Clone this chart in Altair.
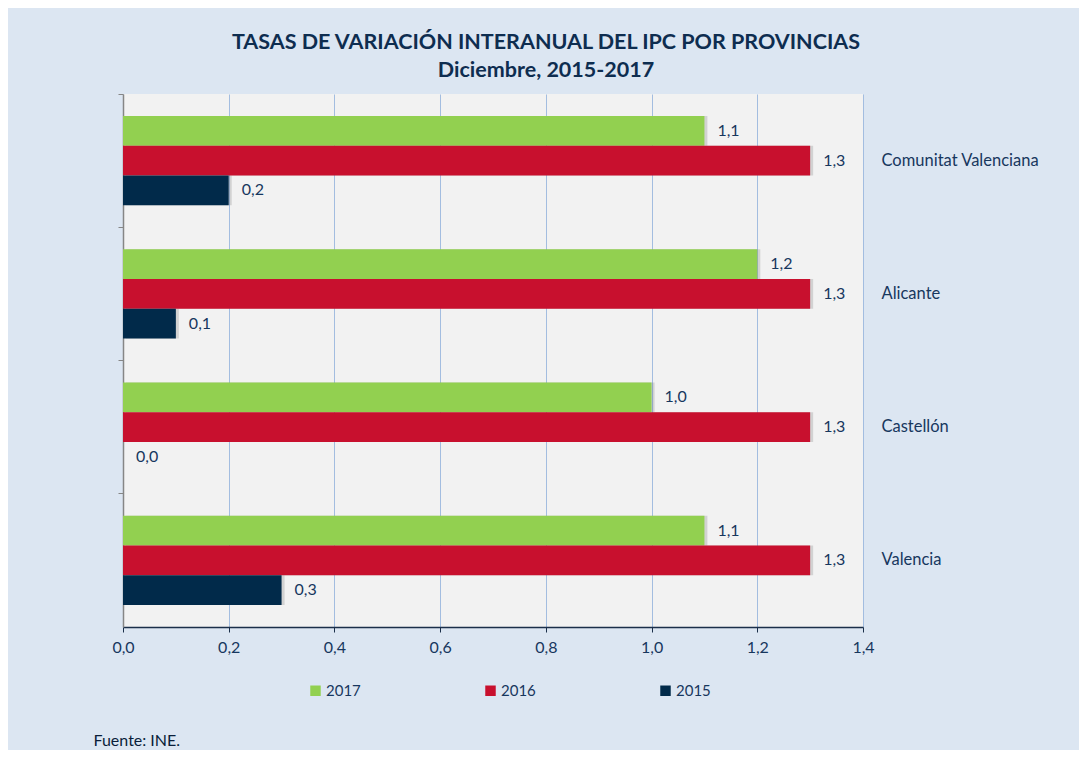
import altair as alt
import pandas as pd

provincias = ["Comunitat Valenciana", "Alicante", "Castellón", "Valencia"]
anios = ["2017", "2016", "2015"]
v2017 = [1.1, 1.2, 1.0, 1.1]
v2016 = [1.3, 1.3, 1.3, 1.3]
v2015 = [0.2, 0.1, 0.0, 0.3]
colores = ["#92d050", "#c8102e", "#012a4a"]
ticks_x = [0.0, 0.2, 0.4, 0.6, 0.8, 1.0, 1.2, 1.4]

rows = []
for i, p in enumerate(provincias):
    for a, vals in zip(anios, [v2017, v2016, v2015]):
        rows.append({"provincia": p, "anio": a, "valor": vals[i]})
df = pd.DataFrame(rows)

TXT = "#17375e"
FONT = "Lato"
FS = 16

xenc = alt.X(
    "valor:Q",
    scale=alt.Scale(domain=[0, 1.4], nice=False),
    axis=alt.Axis(
        values=ticks_x,
        labelExpr="replace(format(datum.value, '.1f'), '.', ',')",
        labelFlush=False,
        labelFontSize=FS, labelColor=TXT, labelFont=FONT, labelPadding=7,
        domainColor="#1b2f4a", domainWidth=1.5, tickColor="#1b2f4a", tickSize=5,
        gridColor="#a3bde0", gridWidth=1,
        title="Fuente: INE.", titleFont=FONT, titleFontSize=16, titleFontWeight="normal",
        titleColor="#0a1e3a", titleAnchor="start", titleAlign="left",
        titleBaseline="middle", titleX=-30, titleY=113,
    ),
)

yscale = alt.Scale(domain=provincias, paddingInner=0, paddingOuter=0)
yoff = alt.YOffset("anio:N", sort=anios,
                   scale=alt.Scale(domain=anios, paddingInner=0, paddingOuter=0.74))

shadow = alt.Chart(df).mark_bar(color="#555555", opacity=0.2, xOffset=3).encode(
    x=xenc,
    y=alt.Y("provincia:N", sort=provincias, scale=yscale, axis=None),
    yOffset=yoff,
)

bars = alt.Chart(df).mark_bar().encode(
    x=xenc,
    y=alt.Y("provincia:N", sort=provincias, scale=yscale,
            axis=alt.Axis(orient="left", labels=False, title=None, bandPosition=0,
                          domainColor="#868686", domainWidth=1.5, tickColor="#868686",
                          tickSize=5, grid=False)),
    yOffset=yoff,
    color=alt.Color("anio:N", sort=anios,
                    scale=alt.Scale(domain=anios, range=colores),
                    legend=alt.Legend(title=None, orient="none", direction="horizontal",
                                      legendX=185, legendY=589, symbolType="square",
                                      symbolSize=110, symbolStrokeWidth=0,
                                      labelFontSize=15, labelColor=TXT, labelFont=FONT,
                                      columnPadding=122, labelOffset=3)),
)

labels = alt.Chart(df).transform_calculate(
    etiqueta="replace(format(datum.valor, '.1f'), '.', ',')"
).mark_text(align="left", baseline="middle", dx=13, fontSize=FS, font=FONT, color=TXT).encode(
    x=alt.X("valor:Q"),
    y=alt.Y("provincia:N", sort=provincias, scale=yscale,
            axis=alt.Axis(orient="right", title=None, domain=False, ticks=False, grid=False,
                          labelFontSize=16.5, labelColor=TXT, labelFont=FONT, labelPadding=18,
                          labelLimit=300)),
    yOffset=yoff,
    text="etiqueta:N",
)

chart = alt.layer(shadow, bars, labels).resolve_axis(y="independent").properties(
    width=740, height=533,
    autosize=alt.AutoSizeParams(type="none"),
    padding={"left": 115, "top": 86, "right": 216, "bottom": 123},
    background="#dce6f2",
    title=alt.TitleParams(
        text=["TASAS DE VARIACIÓN INTERANUAL DEL IPC POR PROVINCIAS", "Diciembre, 2015-2017"],
        fontSize=21.5, font=FONT, fontWeight="bold", color="#0e2d50",
        anchor="middle", dx=53, lineHeight=28, offset=12,
    ),
).configure_view(fill="#f2f2f2", stroke=None)

chart.save("out.html", embed_options={"renderer": "svg", "actions": False})
